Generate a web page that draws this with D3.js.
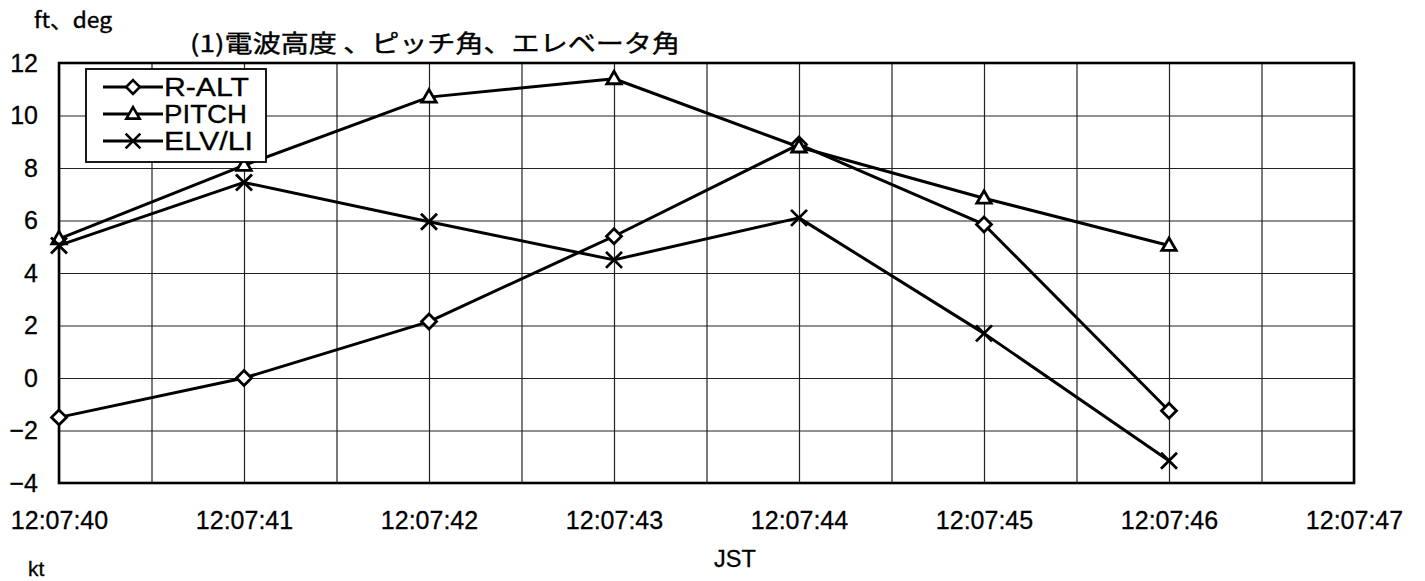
<!DOCTYPE html>
<html>
<head>
<meta charset="utf-8">
<script src="https://cdn.jsdelivr.net/npm/d3@7"></script>
<style>
  html, body { margin: 0; padding: 0; background: #fff; }
  svg { display: block; }
</style>
</head>
<body>
<svg id="chart" width="1425" height="581"></svg>
<script>
// Sample times (one per second) and the three recorded series
const times = ["12:07:40", "12:07:41", "12:07:42", "12:07:43", "12:07:44", "12:07:45", "12:07:46"];
const xTickLabels = ["12:07:40", "12:07:41", "12:07:42", "12:07:43", "12:07:44", "12:07:45", "12:07:46", "12:07:47"];
const yTicks = [-4, -2, 0, 2, 4, 6, 8, 10, 12];
const seriesNames = ["R-ALT", "PITCH", "ELV/LI"];
const rAlt = [-1.5, 0, 2.15, 5.4, 8.9, 5.85, -1.25];
const pitch = [5.3, 8.1, 10.7, 11.4, 8.8, 6.85, 5.05];
const elvLi = [5.05, 7.45, 5.95, 4.5, 6.1, 1.7, -3.15];

const titleText = "(1)電波高度 、ピッチ角、エレベータ角";
const yUnitText = "ft、deg";
const xUnitText = "JST";
const nextUnitText = "kt";

const svg = d3.select("#chart");
const margin = { left: 59, right: 71, top: 63, bottom: 98 };
const W = 1425, H = 581;
const innerW = W - margin.left - margin.right;
const innerH = H - margin.top - margin.bottom;

const x = d3.scaleLinear().domain([0, xTickLabels.length - 1]).range([0, innerW]);
const y = d3.scaleLinear().domain([-4, 12]).range([innerH, 0]);

const g = svg.append("g").attr("transform", `translate(${margin.left},${margin.top})`);

// Grid: vertical lines every half second, horizontal every 2 units
const xGrid = d3.range(0, xTickLabels.length - 1 + 0.01, 0.5);
g.append("g")
  .attr("class", "xgrid")
  .call(d3.axisBottom(x).tickValues(xGrid).tickSize(innerH).tickFormat(""))
  .call(s => s.select(".domain").remove())
  .call(s => s.selectAll("line").attr("stroke", "#222").attr("stroke-width", 1.2));

g.append("g")
  .attr("class", "ygrid")
  .call(d3.axisLeft(y).tickValues(yTicks).tickSize(-innerW).tickFormat(""))
  .call(s => s.select(".domain").remove())
  .call(s => s.selectAll("line").attr("stroke", "#222").attr("stroke-width", 1.2));

// Plot frame
g.append("rect")
  .attr("x", 0).attr("y", 0)
  .attr("width", innerW).attr("height", innerH)
  .attr("fill", "none").attr("stroke", "#000").attr("stroke-width", 2.6);

// Axis labels
const tickFont = "'Liberation Sans', Arial, sans-serif";
g.append("g")
  .attr("transform", `translate(0,${innerH})`)
  .call(d3.axisBottom(x).tickValues(d3.range(xTickLabels.length)).tickSize(0).tickFormat(i => xTickLabels[i]))
  .call(s => s.select(".domain").remove())
  .call(s => s.selectAll("text")
    .attr("y", 28).attr("dy", "0.71em")
    .attr("font-family", tickFont).attr("font-size", 25).attr("fill", "#000")
    .attr("stroke", "#000").attr("stroke-width", 0.3));

g.append("g")
  .call(d3.axisLeft(y).tickValues(yTicks).tickSize(0).tickPadding(21).tickFormat(d => d < 0 ? "\u2212" + Math.abs(d) : d))
  .call(s => s.select(".domain").remove())
  .call(s => s.selectAll("text")
    .attr("font-family", tickFont).attr("font-size", 25).attr("fill", "#000")
    .attr("stroke", "#000").attr("stroke-width", 0.3));

// Marker shapes
const diamondSym = {
  draw(ctx, size) {
    const r = Math.sqrt(size / 2);
    ctx.moveTo(0, -r); ctx.lineTo(r, 0); ctx.lineTo(0, r); ctx.lineTo(-r, 0); ctx.closePath();
  }
};
const triangleSym = {
  draw(ctx, size) {
    const s = Math.sqrt(size * 4 / Math.sqrt(3));
    const h = s * Math.sqrt(3) / 2;
    ctx.moveTo(0, -h * 0.6); ctx.lineTo(s / 2, h * 0.4); ctx.lineTo(-s / 2, h * 0.4); ctx.closePath();
  }
};
const crossSym = {
  draw(ctx, size) {
    const r = Math.sqrt(size) / 2;
    ctx.moveTo(-r, -r); ctx.lineTo(r, r); ctx.moveTo(-r, r); ctx.lineTo(r, -r);
  }
};

const series = [
  { name: seriesNames[0], values: rAlt, sym: diamondSym, size: 112, fill: "#fff" },
  { name: seriesNames[1], values: pitch, sym: triangleSym, size: 90, fill: "#fff" },
  { name: seriesNames[2], values: elvLi, sym: crossSym, size: 256, fill: "none" }
];

const line = d3.line().x((d, i) => x(i)).y(d => y(d));

series.forEach(s => {
  g.append("path")
    .datum(s.values)
    .attr("fill", "none")
    .attr("stroke", "#000")
    .attr("stroke-width", 3)
    .attr("stroke-linejoin", "round")
    .attr("d", line);
});

series.forEach(s => {
  g.append("g").selectAll("path")
    .data(s.values)
    .join("path")
    .attr("transform", (d, i) => `translate(${x(i)},${y(d)})`)
    .attr("d", d3.symbol(s.sym, s.size))
    .attr("fill", s.fill)
    .attr("stroke", "#000")
    .attr("stroke-width", 2.8);
});

// Legend
const legend = svg.append("g").attr("transform", "translate(86,69)");
legend.append("rect")
  .attr("width", 180).attr("height", 93)
  .attr("fill", "#fff").attr("stroke", "#000").attr("stroke-width", 1.8);
const legendWidths = [85, 83, 89];
series.forEach((s, k) => {
  const row = legend.append("g").attr("transform", `translate(0,${18 + k * 27})`);
  row.append("line").attr("x1", 17).attr("x2", 77).attr("y1", 0).attr("y2", 0)
    .attr("stroke", "#000").attr("stroke-width", 2.8);
  row.append("path").attr("transform", "translate(47,0)")
    .attr("d", d3.symbol(s.sym, s.size * 0.85))
    .attr("fill", s.fill).attr("stroke", "#000").attr("stroke-width", 2.6);
  row.append("text")
    .attr("x", 78).attr("y", 0).attr("dy", "0.36em")
    .attr("font-family", tickFont).attr("font-size", 25)
    .attr("stroke", "#000").attr("stroke-width", 0.3)
    .attr("textLength", legendWidths[k]).attr("lengthAdjust", "spacingAndGlyphs")
    .text(s.name);
});

// Titles and unit labels
const cjkFont = "'Noto Sans CJK JP', 'Noto Sans', sans-serif";
svg.append("text")
  .attr("x", 190).attr("y", 52)
  .attr("font-family", cjkFont).attr("font-size", 23.5)
  .attr("stroke", "#000").attr("stroke-width", 0.4)
  .attr("textLength", 490).attr("lengthAdjust", "spacingAndGlyphs")
  .text(titleText);

svg.append("text")
  .attr("x", 34).attr("y", 28)
  .attr("font-family", cjkFont).attr("font-size", 22)
  .attr("stroke", "#000").attr("stroke-width", 0.4)
  .attr("textLength", 78).attr("lengthAdjust", "spacingAndGlyphs")
  .text(yUnitText);

svg.append("text")
  .attr("x", 735).attr("y", 567).attr("text-anchor", "middle")
  .attr("font-family", tickFont).attr("font-size", 23.5)
  .attr("stroke", "#000").attr("stroke-width", 0.3)
  .text(xUnitText);

svg.append("text")
  .attr("x", 28).attr("y", 576)
  .attr("font-family", tickFont).attr("font-size", 21)
  .attr("stroke", "#000").attr("stroke-width", 0.3)
  .text(nextUnitText);
</script>
</body>
</html>
